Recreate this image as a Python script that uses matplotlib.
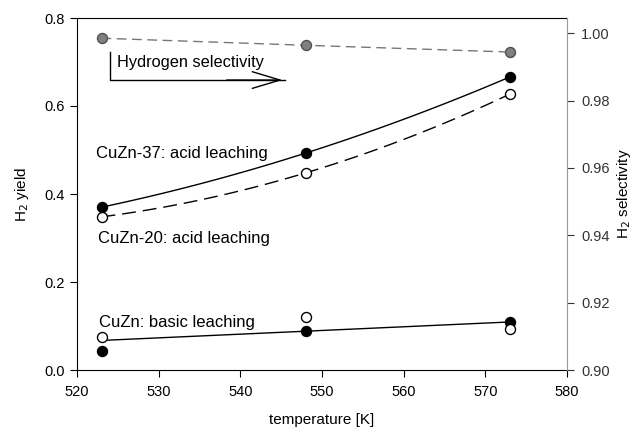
import numpy as np
import matplotlib
matplotlib.use("Agg")
from matplotlib import pyplot as plt

# data
temp = [523, 548, 573]
yield_cuzn37 = [0.370, 0.493, 0.666]
yield_cuzn20 = [0.348, 0.448, 0.627]
yield_basic_filled = [0.043, 0.089, 0.109]
yield_basic_open = [0.075, 0.120, 0.093]
selectivity = [0.9985, 0.9964, 0.9944]

plt.rcParams["font.family"] = ["Liberation Sans", "DejaVu Sans"]
plt.rcParams["font.size"] = 10

fig = plt.figure(figsize=(6.37, 4.28), dpi=100)
ax = fig.add_axes([77 / 637, 1 - 370 / 428, 490 / 637, 352 / 428])
ax2 = ax.twinx()

t = np.array(temp, dtype=float)
tt = np.linspace(523, 573, 100)

# fitted curves
c37 = np.polyfit(t, yield_cuzn37, 2)
c20 = np.polyfit(t, yield_cuzn20, 2)
tb = np.concatenate([t, t])
cb = np.polyfit(tb, yield_basic_filled + yield_basic_open, 1)

ax.plot(tt, np.polyval(c37, tt), color="black", lw=1.0)
ax.plot(tt, np.polyval(c20, tt), color="black", lw=1.0, dashes=(10, 5))
ax.plot(tt, np.polyval(cb, tt), color="black", lw=1.0)

ms = 7.2
ax.plot(temp, yield_cuzn37, "o", ms=ms, mfc="black", mec="black")
ax.plot(temp, yield_cuzn20, "o", ms=ms, mfc="white", mec="black", mew=1.0)
ax.plot(temp, yield_basic_filled, "o", ms=ms, mfc="black", mec="black")
ax.plot(temp, yield_basic_open, "o", ms=ms, mfc="white", mec="black", mew=1.0)

ax2.plot(temp, selectivity, color="#777777", lw=1.0, dashes=(7, 4),
         marker="o", ms=ms, mfc="#808080", mec="#505050")

ax.set_xlim(520, 580)
ax.set_ylim(0, 0.8)
ax2.set_ylim(0.9, 1.0045)
ax.set_xticks(np.arange(520, 581, 10))
ax.set_yticks(np.arange(0, 0.81, 0.2))
ax.set_yticklabels(["0.0", "0.2", "0.4", "0.6", "0.8"])
ax2.set_yticks(np.arange(0.90, 1.001, 0.02))
ax2.set_yticklabels(["0.90", "0.92", "0.94", "0.96", "0.98", "1.00"])

for a in (ax, ax2):
    a.tick_params(direction="out", length=5, width=0.8, labelsize=10.5)
ax.tick_params(axis="x", pad=6)
ax2.tick_params(axis="y", colors="#333333", pad=5)
ax2.spines["right"].set_color("#999999")
ax.spines["right"].set_visible(False)
ax2.spines["left"].set_visible(False)
ax2.spines["bottom"].set_visible(False)
ax2.spines["top"].set_visible(False)

ax.set_xlabel("temperature [K]", fontsize=11, labelpad=10)
ax.set_ylabel("H$_2$ yield", fontsize=11, labelpad=10)
ax2.set_ylabel("H$_2$ selectivity", fontsize=11, labelpad=4)

ax.text(524.9, 0.698, "Hydrogen selectivity", fontsize=11.8, va="center")
ax.plot([524.05, 524.05, 545.5], [0.723, 0.659, 0.659], color="black", lw=1.0)
ax.annotate("", xy=(545.5, 0.659), xytext=(538.0, 0.659),
            arrowprops=dict(arrowstyle="->,head_length=2.0,head_width=0.6",
                            color="black", lw=1.0))
ax.text(522.3, 0.493, "CuZn-37: acid leaching", fontsize=12, va="center")
ax.text(522.55, 0.300, "CuZn-20: acid leaching", fontsize=12, va="center")
ax.text(522.7, 0.109, "CuZn: basic leaching", fontsize=12, va="center")

fig.savefig("out.png", dpi=100)
